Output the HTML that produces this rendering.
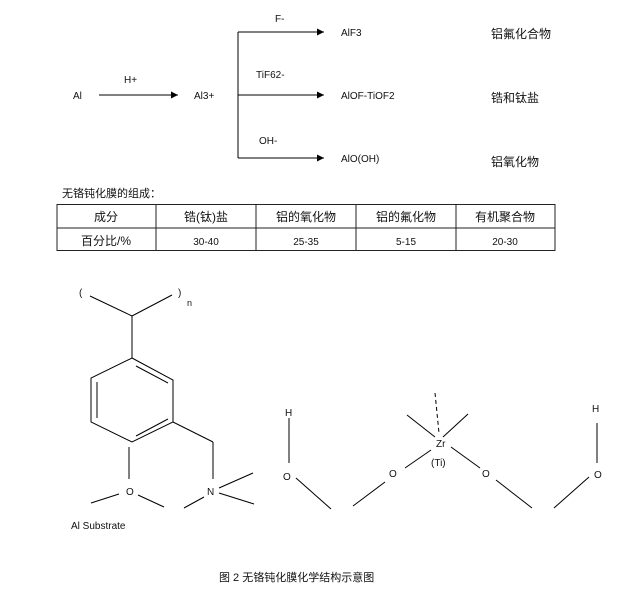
<!DOCTYPE html>
<html><head><meta charset="utf-8"><style>
body{margin:0;background:#fff;width:633px;height:595px;overflow:hidden}
svg text{font-family:"Liberation Sans","Noto Sans CJK SC",sans-serif;fill:#111}
</style></head><body>
<svg width="633" height="595" xmlns="http://www.w3.org/2000/svg">
<defs><marker id="a" markerWidth="8" markerHeight="8" refX="7" refY="4" orient="auto" markerUnits="userSpaceOnUse"><path d="M0,0.5 L7,4 L0,7.5z" fill="#000"/></marker></defs>
<g stroke="#000" stroke-width="1" fill="none">
<line x1="99" y1="95" x2="178" y2="95" marker-end="url(#a)"/>
<line x1="238" y1="32" x2="238" y2="158"/>
<line x1="238" y1="32" x2="324" y2="32" marker-end="url(#a)"/>
<line x1="238" y1="95" x2="324" y2="95" marker-end="url(#a)"/>
<line x1="238" y1="158" x2="324" y2="158" marker-end="url(#a)"/>
</g>
<g font-size="10">
<text x="73" y="99">Al</text>
<text x="124" y="83">H+</text>
<text x="194" y="99">Al3+</text>
<text x="275" y="22">F-</text>
<text x="256" y="78">TiF62-</text>
<text x="259" y="144">OH-</text>
<text x="341" y="36">AlF3</text>
<text x="341" y="99">AlOF-TiOF2</text>
<text x="341" y="162">AlO(OH)</text>
</g>
<g font-size="12">
<text x="491" y="38">铝氟化合物</text>
<text x="491" y="102">锆和钛盐</text>
<text x="491" y="166">铝氧化物</text>
<text x="62" y="197" font-size="11">无铬钝化膜的组成：</text>
</g>
<g stroke="#222" stroke-width="1" fill="none">
<rect x="57" y="204.5" width="498" height="46"/>
<line x1="57" y1="228" x2="555" y2="228"/>
<line x1="156" y1="204" x2="156" y2="251"/><line x1="256" y1="204" x2="256" y2="251"/>
<line x1="356" y1="204" x2="356" y2="251"/><line x1="456" y1="204" x2="456" y2="251"/>
</g>
<g font-size="12" text-anchor="middle">
<text x="106" y="221">成分</text><text x="206" y="221">锆(钛)盐</text><text x="306" y="221">铝的氧化物</text><text x="406" y="221">铝的氟化物</text><text x="505" y="221">有机聚合物</text>
<text x="106" y="245">百分比/%</text>
<text x="206" y="245" font-size="10">30-40</text><text x="306" y="245" font-size="10">25-35</text><text x="406" y="245" font-size="10">5-15</text><text x="505" y="245" font-size="10">20-30</text>
</g>
<g stroke="#000" stroke-width="1" fill="none">
<line x1="90" y1="296" x2="132" y2="316"/><line x1="172" y1="295" x2="132" y2="316"/>
<line x1="132" y1="316" x2="132" y2="358"/>
<polygon points="132,358 173,380 173,422 132,442 91,422 91,378"/>
<line x1="97" y1="382" x2="97" y2="418"/>
<line x1="136" y1="366" x2="168" y2="383"/>
<line x1="168" y1="419" x2="136" y2="436"/>
<line x1="129" y1="447" x2="129" y2="479"/>
<line x1="91" y1="503" x2="119" y2="494"/><line x1="138" y1="495" x2="164" y2="507"/>
<line x1="173" y1="422" x2="213" y2="442"/><line x1="213" y1="442" x2="213" y2="479"/>
<line x1="184" y1="508" x2="204" y2="497"/><line x1="219" y1="488" x2="253" y2="473"/><line x1="219" y1="493" x2="254" y2="504"/>
<line x1="289" y1="418" x2="289" y2="463"/>
<line x1="296" y1="478" x2="331" y2="509"/><line x1="353" y1="506" x2="385" y2="482"/>
<line x1="405" y1="468" x2="431" y2="450"/>
<line x1="407" y1="415" x2="435" y2="437"/><line x1="468" y1="414" x2="443" y2="437"/>
<line x1="435" y1="393" x2="439" y2="433" stroke-dasharray="4,3"/>
<line x1="451" y1="447" x2="480" y2="468"/>
<line x1="496" y1="480" x2="532" y2="508"/><line x1="554" y1="508" x2="589" y2="477"/>
<line x1="597" y1="423" x2="597" y2="463"/>
</g>
<g font-size="10">
<text x="79" y="296">(</text><text x="178" y="296">)</text><text x="187" y="306" font-size="9">n</text>
<text x="126" y="495">O</text><text x="207" y="495">N</text>
<text x="71" y="529">Al Substrate</text>
<text x="285" y="416">H</text><text x="283" y="480">O</text>
<text x="389" y="477">O</text><text x="436" y="447">Zr</text><text x="431" y="466">(Ti)</text>
<text x="482" y="477">O</text><text x="594" y="478">O</text><text x="592" y="412">H</text>
<text x="219" y="581" font-size="11">图 2  无铬钝化膜化学结构示意图</text>
</g>
</svg>
</body></html>
